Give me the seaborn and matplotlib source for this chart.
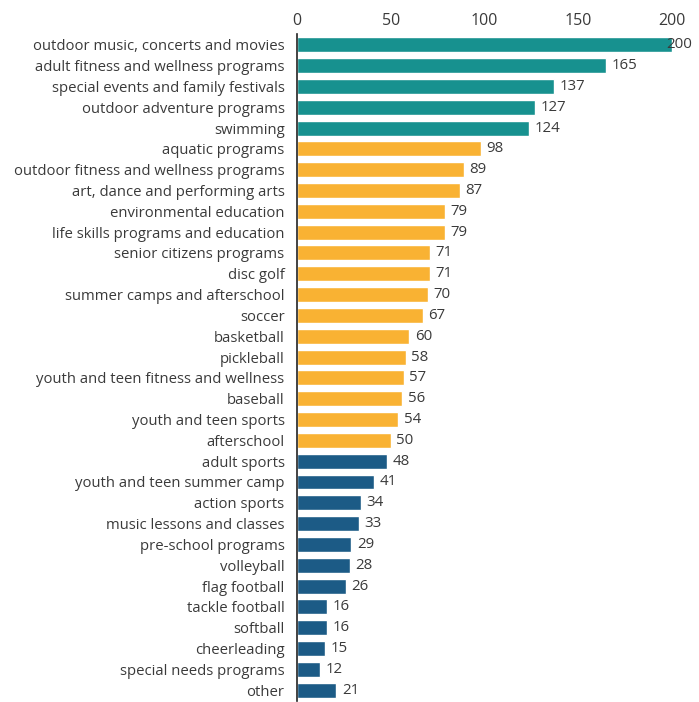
import matplotlib
matplotlib.use("Agg")
import matplotlib.pyplot as plt
import seaborn as sns
import pandas as pd

# chart data
programs = [
    "outdoor music, concerts and movies", "adult fitness and wellness programs",
    "special events and family festivals", "outdoor adventure programs", "swimming",
    "aquatic programs", "outdoor fitness and wellness programs", "art, dance and performing arts",
    "environmental education", "life skills programs and education", "senior citizens programs",
    "disc golf", "summer camps and afterschool", "soccer", "basketball", "pickleball",
    "youth and teen fitness and wellness", "baseball", "youth and teen sports", "afterschool",
    "adult sports", "youth and teen summer camp", "action sports", "music lessons and classes",
    "pre-school programs", "volleyball", "flag football", "tackle football", "softball",
    "cheerleading", "special needs programs", "other",
]
counts = [200, 165, 137, 127, 124, 98, 89, 87, 79, 79, 71, 71, 70, 67, 60, 58,
          57, 56, 54, 50, 48, 41, 34, 33, 29, 28, 26, 16, 16, 15, 12, 21]
tiers = ["high"] * 5 + ["mid"] * 15 + ["low"] * 12
tier_colors = {"high": "#17918f", "mid": "#f9b233", "low": "#1c5b86"}

df = pd.DataFrame({"program": programs, "count": counts, "tier": tiers})

sns.set_style("white")
plt.rcParams["font.family"] = ["Open Sans", "DejaVu Sans"]
text_color = "#3a3a3a"

fig = plt.figure(figsize=(6.99, 7.02), dpi=100)
ax = fig.add_axes([0.425, 0.002, 0.536, 0.949])

sns.barplot(data=df, y="program", x="count", hue="tier", palette=tier_colors,
            dodge=False, legend=False, width=0.72, orient="h", ax=ax, saturation=1)

for cont in ax.containers:
    labels = ax.bar_label(cont, padding=4, fontsize=10.8, color=text_color)
    for bar, lab in zip(cont, labels):
        if bar.get_width() >= 200:
            # top value sits on the end of the bar
            lab.set_x(-4)

ax.set_xlim(0, 200)
ax.set_ylim(len(programs) - 0.5, -0.5)
ax.set_xticks([0, 50, 100, 150, 200])
ax.xaxis.tick_top()
ax.tick_params(axis="x", length=0, labelsize=11.5, labelcolor=text_color, pad=4)
ax.tick_params(axis="y", length=0, labelsize=10.7, labelcolor=text_color, pad=9)
ax.set_xlabel("")
ax.set_ylabel("")
for side in ["top", "right", "bottom"]:
    ax.spines[side].set_visible(False)
ax.spines["left"].set_color("#222222")
ax.spines["left"].set_linewidth(1.2)

fig.savefig("out.png", dpi=100)
